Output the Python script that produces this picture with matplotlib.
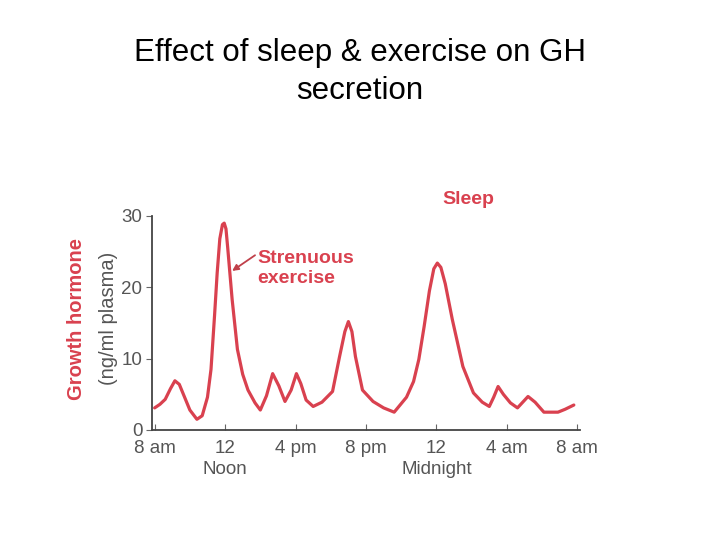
#!/usr/bin/env python3

from matplotlib import pyplot as plt

# hours after 8 am and GH level (ng/ml plasma)
hours = [0.0, 0.3, 0.6, 0.9, 1.15, 1.4, 1.7, 2.0, 2.4, 2.7, 3.0, 3.2, 3.4, 3.55,
         3.7, 3.85, 3.95, 4.05, 4.15, 4.4, 4.7, 5.0, 5.3, 5.7, 6.0, 6.35, 6.7,
         7.05, 7.4, 7.75, 8.05, 8.3, 8.6, 9.0, 9.5, 10.1, 10.5, 10.8, 11.0,
         11.2, 11.4, 11.8, 12.4, 13.0, 13.6, 14.3, 14.7, 15.0, 15.3, 15.6,
         15.85, 16.05, 16.25, 16.5, 16.9, 17.5, 18.1, 18.6, 19.0, 19.25, 19.5,
         19.8, 20.2, 20.6, 20.9, 21.2, 21.6, 22.1, 22.9, 23.3, 23.8]
gh = [3.1, 3.6, 4.3, 5.8, 6.9, 6.4, 4.6, 2.8, 1.5, 2.0, 4.6, 8.5, 16.0, 22.0,
      26.8, 28.8, 29.0, 28.2, 25.5, 18.3, 11.3, 7.8, 5.6, 3.8, 2.8, 4.8, 7.9,
      6.2, 4.0, 5.6, 7.9, 6.5, 4.2, 3.3, 3.9, 5.4, 10.3, 13.8, 15.2, 13.8,
      10.3, 5.6, 4.0, 3.1, 2.5, 4.6, 6.8, 9.9, 14.5, 19.5, 22.6, 23.4, 22.8,
      20.5, 15.5, 8.9, 5.2, 3.9, 3.3, 4.6, 6.1, 5.0, 3.8, 3.1, 3.9, 4.7, 3.9,
      2.5, 2.5, 2.9, 3.5]

xtick_pos = [0, 4, 8, 12, 16, 20, 24]
xtick_labels = ["8 am", "12", "4 pm", "8 pm", "12", "4 am", "8 am"]
ytick_pos = [0, 10, 20, 30]

RED = "#d9414f"
GRAY = "#555555"


def main():
    plt.rcParams['font.family'] = ['Liberation Sans', 'DejaVu Sans']
    fig = plt.figure(figsize=(7.2, 5.4), dpi=100)
    fig.text(0.5, 0.93, "Effect of sleep & exercise on GH\nsecretion",
             ha='center', va='top', fontsize=22.5, linespacing=1.36)

    ax = fig.add_axes([152 / 720, 110 / 540, 428 / 720, 214 / 540])
    ax.plot(hours, gh, color=RED, lw=2.3, solid_capstyle='round',
            solid_joinstyle='round')
    ax.set_xlim(-0.15, 24.15)
    ax.set_ylim(0, 30)

    for side in ('top', 'right'):
        ax.spines[side].set_visible(False)
    for side in ('left', 'bottom'):
        ax.spines[side].set_color('#444444')
        ax.spines[side].set_linewidth(1.3)

    ax.set_xticks(xtick_pos)
    ax.set_xticklabels(xtick_labels)
    ax.set_yticks(ytick_pos)
    ax.tick_params(axis='x', direction='in', length=4, color='#666666',
                   labelsize=13.5, labelcolor=GRAY, pad=7)
    ax.tick_params(axis='y', direction='out', length=4, color='#666666',
                   labelsize=13.5, labelcolor=GRAY, pad=3)

    ax.text(4, -0.145, "Noon", transform=ax.get_xaxis_transform(),
            ha='center', va='top', fontsize=13.5, color=GRAY)
    ax.text(16, -0.145, "Midnight", transform=ax.get_xaxis_transform(),
            ha='center', va='top', fontsize=13.5, color=GRAY)

    fig.text(77 / 720, 0.41, "Growth hormone", rotation=90, ha='center',
             va='center', fontsize=14.5, fontweight='bold', color=RED)
    fig.text(108 / 720, 0.41, "(ng/ml plasma)", rotation=90, ha='center',
             va='center', fontsize=14.5, color=GRAY)

    ax.text(17.8, 32.3, "Sleep", ha='center', va='center', fontsize=14,
            fontweight='bold', color=RED)
    ax.text(5.85, 22.6, "Strenuous\nexercise", ha='left', va='center',
            fontsize=14, fontweight='bold', color=RED, linespacing=1.2)
    ax.annotate("", xy=(4.4, 22.3), xytext=(5.7, 24.5),
                arrowprops=dict(arrowstyle='-|>', color='#c0404a', lw=1.3,
                                mutation_scale=9, shrinkA=0, shrinkB=0))

    fig.savefig("out.png", dpi=100)


if __name__ == "__main__":
    main()
